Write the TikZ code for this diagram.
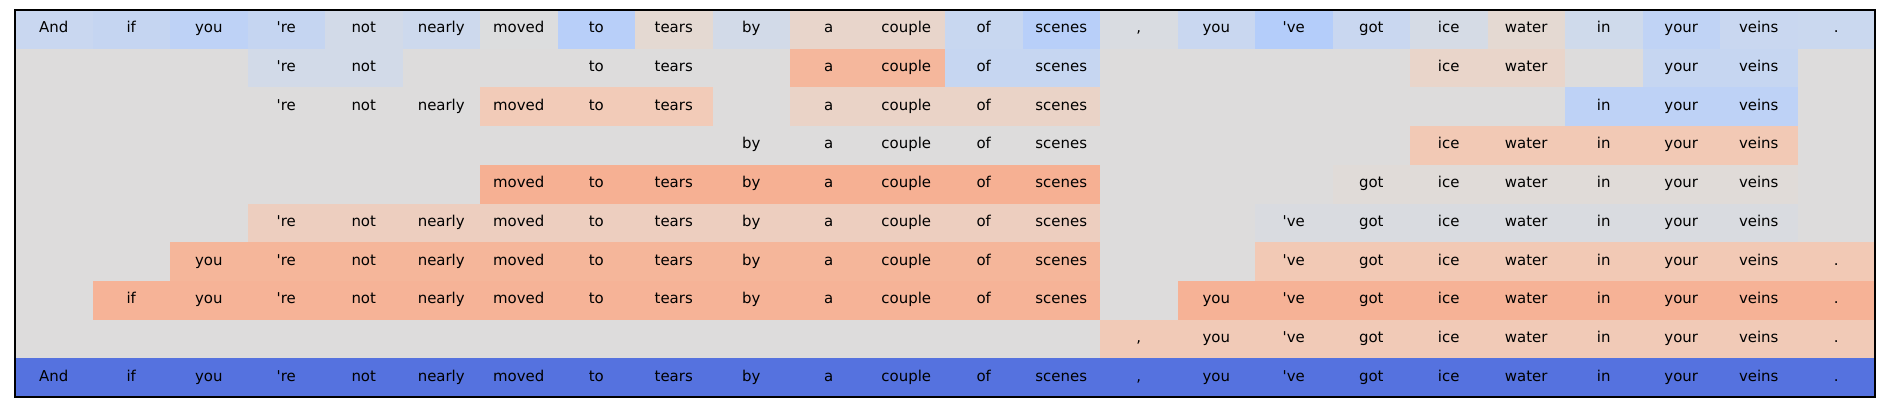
\documentclass[tikz,border=0pt]{standalone}
\usepackage{fontspec}
\newfontfamily\dvs{DejaVu Sans}
\definecolor{bgray}{RGB}{221,220,220}
\definecolor{cA}{RGB}{210,218,232}
\definecolor{cB}{RGB}{245,183,156}
\definecolor{cC}{RGB}{198,214,241}
\definecolor{cD}{RGB}{233,213,202}
\definecolor{cE}{RGB}{242,203,184}
\definecolor{cF}{RGB}{234,211,199}
\definecolor{cG}{RGB}{190,210,246}
\definecolor{cH}{RGB}{242,201,181}
\definecolor{cI}{RGB}{246,176,147}
\definecolor{cJ}{RGB}{224,219,216}
\definecolor{cK}{RGB}{237,206,191}
\definecolor{cL}{RGB}{217,219,224}
\definecolor{cM}{RGB}{245,182,154}
\definecolor{cN}{RGB}{246,179,151}
\definecolor{cO}{RGB}{246,178,150}
\definecolor{cP}{RGB}{241,202,183}
\definecolor{cQ}{RGB}{85,114,223}
\newcommand\segcells[4]{%
  \foreach \w [count=\c from #2] in {#4}{%
    \node[cell,fill=#3] (n-#1-\c) at ({53.75+77.5*\c},{29.35+38.7*#1}) {\w};}}
\begin{document}
\begin{tikzpicture}[x=0.75pt,y=-0.75pt,
  cell/.style={inner sep=0pt, outer sep=0pt, minimum width=58.125pt, minimum height=29.025pt,
    text height=0.76em, text depth=0.236em, font=\dvs\fontsize{11.2}{13}\selectfont, text=black}]
\useasboundingbox (0,0) rectangle (1884,412);
\fill[bgray] (15,10) rectangle (1875,397);
% row 1
\foreach \c/\R/\G/\B/\w in {0/201/215/240/And, 1/197/213/241/if, 2/190/210/246/you,
  3/197/213/241/'re, 4/210/218/232/not, 5/205/217/237/nearly, 6/220/221/222/moved,
  7/184/207/249/to, 8/228/217/210/tears, 9/210/218/232/by, 10/232/213/203/a,
  11/232/213/203/couple, 12/200/215/240/of, 13/184/207/249/scenes, 14/217/220/225/{,},
  15/201/215/240/you, 16/180/205/250/'ve, 17/201/215/240/got, 18/213/219/229/ice,
  19/228/217/210/water, 20/207/218/235/in, 21/192/211/245/your, 22/201/215/240/veins,
  23/202/216/239/.}{%
  \node[cell, fill={rgb,255:red,\R;green,\G;blue,\B}] (n-0-\c) at ({53.75+77.5*\c},29.35) {\w};}
% row 2
\segcells{1}{3}{cA}{'re,not}
\segcells{1}{7}{bgray}{to,tears}
\segcells{1}{10}{cB}{a,couple}
\segcells{1}{12}{cC}{of,scenes}
\segcells{1}{18}{cD}{ice,water}
\segcells{1}{21}{cC}{your,veins}
% row 3
\segcells{2}{3}{bgray}{'re,not,nearly}
\segcells{2}{6}{cE}{moved,to,tears}
\segcells{2}{10}{cF}{a,couple,of,scenes}
\segcells{2}{20}{cG}{in,your,veins}
% row 4
\segcells{3}{9}{bgray}{by,a,couple,of,scenes}
\segcells{3}{18}{cH}{ice,water,in,your,veins}
% row 5
\segcells{4}{6}{cI}{moved,to,tears,by,a,couple,of,scenes}
\segcells{4}{17}{cJ}{got,ice,water,in,your,veins}
% row 6
\segcells{5}{3}{cK}{'re,not,nearly,moved,to,tears,by,a,couple,of,scenes}
\segcells{5}{16}{cL}{'ve,got,ice,water,in,your,veins}
% row 7
\segcells{6}{2}{cM}{you,'re,not,nearly,moved,to,tears,by,a,couple,of,scenes}
\segcells{6}{16}{cH}{'ve,got,ice,water,in,your,veins,.}
% row 8
\segcells{7}{1}{cN}{if,you,'re,not,nearly,moved,to,tears,by,a,couple,of,scenes}
\segcells{7}{15}{cO}{you,'ve,got,ice,water,in,your,veins,.}
% row 9
\segcells{8}{14}{cP}{{,},you,'ve,got,ice,water,in,your,veins,.}
% row 10
\segcells{9}{0}{cQ}{And,if,you,'re,not,nearly,moved,to,tears,by,a,couple,of,scenes,{,},you,'ve,got,ice,water,in,your,veins,.}
\draw[line width=0.85pt] (15,10) rectangle (1875,397);
\end{tikzpicture}
\end{document}
